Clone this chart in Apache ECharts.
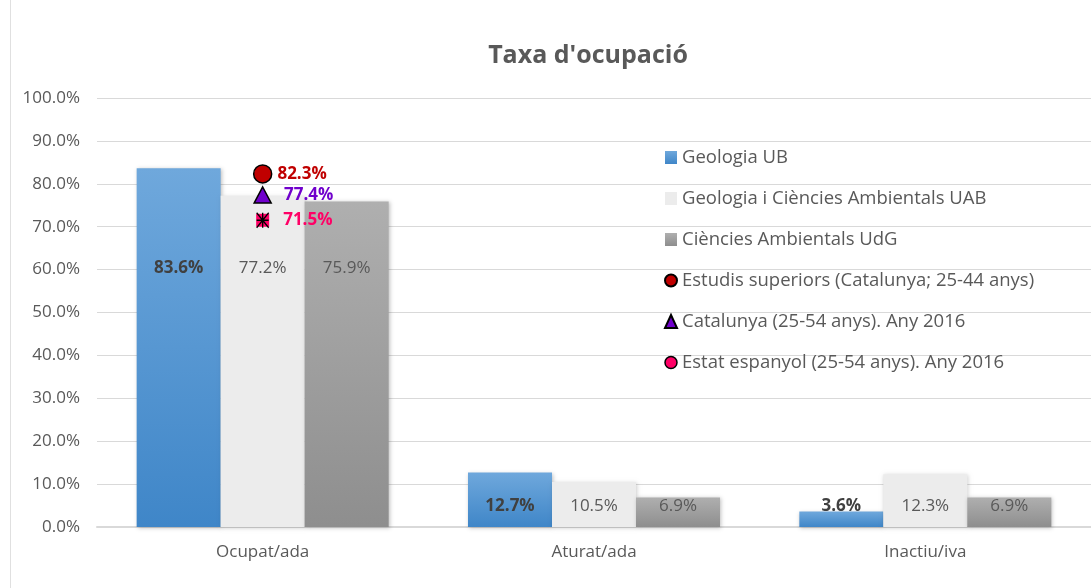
<!DOCTYPE html>
<html><head><meta charset="utf-8">
<script src="https://cdn.jsdelivr.net/npm/echarts@6/dist/echarts.min.js"></script>
<style>html,body{margin:0;padding:0;background:#fff}#c{width:1091px;height:588px}</style>
</head><body><div id="c"></div>
<script>
const categories = ['Ocupat/ada', 'Aturat/ada', 'Inactiu/iva'];
const geologiaUB = [83.6, 12.7, 3.6];
const geologiaUAB = [77.2, 10.5, 12.3];
const ambientalsUdG = [75.9, 6.9, 6.9];
const estudisSuperiors = [82.3, null, null];
const catalunya = [77.4, null, null];
const estatEspanyol = [71.5, null, null];
const yTicks = [0, 10, 20, 30, 40, 50, 60, 70, 80, 90, 100];

const FONT = '"Open Sans", "Noto Sans", sans-serif';
const chart = echarts.init(document.getElementById('c'));

function barLabel(bold) {
  return {
    show: true, position: 'insideBottom', fontFamily: FONT, fontSize: 17,
    color: bold ? '#404040' : '#595959', fontWeight: bold ? 'bold' : 'normal',
    formatter: p => p.value.toFixed(1) + '%'
  };
}
function barData(vals, bold) {
  return vals.map(v => ({ value: v, label: Object.assign(barLabel(bold), { distance: v > 50 ? 250 : 12 }) }));
}
function grad(top, bottom) {
  return new echarts.graphic.LinearGradient(0, 0, 0, 1, [{offset: 0, color: top}, {offset: 1, color: bottom}]);
}
function pointLabel(color, dx) {
  return { show: true, position: 'right', distance: dx, fontFamily: FONT, fontSize: 17, fontWeight: 'bold', color: color,
    formatter: p => p.value.toFixed(1) + '%' };
}

chart.setOption({
  animation: false,
  title: { text: "Taxa d'ocupació", left: 583, top: 38, textAlign: 'center',
    textStyle: { fontFamily: FONT, fontSize: 25, fontWeight: 'bold', color: '#595959' } },
  grid: { left: 97, right: -11, top: 98, bottom: 61, containLabel: false },
  legend: {
    orient: 'vertical', left: 659, top: 140, itemWidth: 12, itemHeight: 13, itemGap: 16,
    textStyle: { fontFamily: FONT, fontSize: 18.5, color: '#595959', lineHeight: 25 },
    data: [
      { name: 'Geologia UB', icon: 'rect' },
      { name: 'Geologia i Ciències Ambientals UAB', icon: 'rect' },
      { name: 'Ciències Ambientals UdG', icon: 'rect' },
      { name: 'Estudis superiors (Catalunya; 25-44 anys)', icon: 'circle' },
      { name: 'Catalunya (25-54 anys). Any 2016', icon: 'triangle' },
      { name: 'Estat espanyol (25-54 anys). Any 2016', icon: 'circle', itemStyle: { color: '#ff0066', borderColor: '#000', borderWidth: 1.5 } }
    ]
  },
  xAxis: {
    type: 'category', data: categories,
    axisLine: { lineStyle: { color: '#d9d9d9', width: 2 } }, axisTick: { show: false },
    axisLabel: { fontFamily: FONT, fontSize: 17, color: '#595959', margin: 17 }
  },
  yAxis: {
    type: 'value', min: 0, max: 100, interval: 10,
    axisLine: { show: false }, axisTick: { show: false },
    splitLine: { lineStyle: { color: '#d9d9d9', width: 1 } },
    axisLabel: { fontFamily: FONT, fontSize: 17, color: '#595959', margin: 17, formatter: v => v.toFixed(1) + '%' }
  },
  series: [
    { name: 'Geologia UB', type: 'bar', barWidth: 84, barGap: '0%', data: barData(geologiaUB, true),
      itemStyle: { color: grad('#6fa8dc', '#3f86c8'), shadowBlur: 4, shadowColor: 'rgba(0,0,0,0.25)', shadowOffsetX: 1, shadowOffsetY: 1 } },
    { name: 'Geologia i Ciències Ambientals UAB', type: 'bar', barWidth: 84, barGap: '0%', data: barData(geologiaUAB, false),
      itemStyle: { color: '#ececec', shadowBlur: 4, shadowColor: 'rgba(0,0,0,0.2)', shadowOffsetX: 1, shadowOffsetY: 1 } },
    { name: 'Ciències Ambientals UdG', type: 'bar', barWidth: 84, barGap: '0%', data: barData(ambientalsUdG, false),
      itemStyle: { color: grad('#afafaf', '#8e8e8e'), shadowBlur: 4, shadowColor: 'rgba(0,0,0,0.25)', shadowOffsetX: 1, shadowOffsetY: 1 } },
    { name: 'Estudis superiors (Catalunya; 25-44 anys)', type: 'scatter', symbol: 'circle', symbolSize: 18, z: 5,
      data: estudisSuperiors.map(v => v == null ? '-' : v),
      itemStyle: { color: '#c00000', borderColor: '#000', borderWidth: 1.5, opacity: 1 }, label: pointLabel('#c00000', 5) },
    { name: 'Catalunya (25-54 anys). Any 2016', type: 'scatter', symbol: 'triangle', symbolSize: [17, 16], z: 5,
      data: catalunya.map(v => v == null ? '-' : v),
      itemStyle: { color: '#7000cc', borderColor: '#000', borderWidth: 1.5, opacity: 1 }, label: pointLabel('#7000cc', 12) },
    { name: 'Estat espanyol (25-54 anys). Any 2016', type: 'scatter', symbol: 'rect', symbolSize: 13, z: 5,
      data: estatEspanyol.map(v => v == null ? '-' : v),
      itemStyle: { color: '#ff0066', borderColor: '#ff0066', borderWidth: 0, opacity: 1 }, label: pointLabel('#ff0066', 14) },
    { name: 'estat-asterisk', type: 'scatter', symbol: 'path://M0,0L10,14M10,0L0,14M5,0L5,14M0,7L10,7', symbolSize: [12, 15], z: 6,
      data: estatEspanyol.map(v => v == null ? '-' : v), silent: true,
      itemStyle: { color: 'none', borderColor: '#000', borderWidth: 1.5, opacity: 1 } }
  ],
  graphic: [
    { type: 'line', shape: { x1: 10.5, y1: 0, x2: 10.5, y2: 588 }, style: { stroke: '#e0e0e0', lineWidth: 1 } }
  ]
});
</script>
</body></html>
